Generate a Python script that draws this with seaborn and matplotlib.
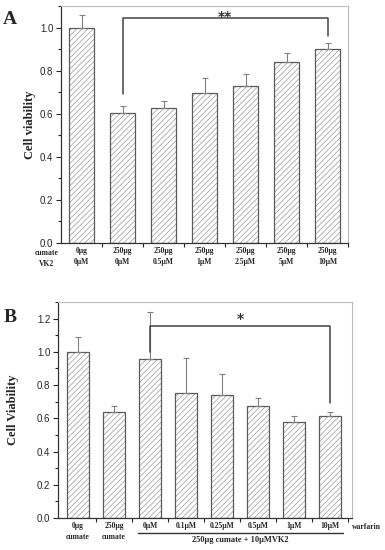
import numpy as np
import matplotlib
matplotlib.use('Agg')
import matplotlib.pyplot as plt
import matplotlib.transforms as mtransforms
from matplotlib.ticker import MultipleLocator, FixedLocator
import seaborn as sns

# Panel A data
labels_a = ['0μg\n0μM', '250μg\n0μM', '250μg\n0.5μM', '250μg\n1μM',
            '250μg\n2.5μM', '250μg\n5μM', '250μg\n10μM']
viab_a = [1.0, 0.603, 0.626, 0.694, 0.730, 0.842, 0.899]
err_a = [0.057, 0.031, 0.034, 0.070, 0.055, 0.040, 0.027]

# Panel B data
labels_b = ['0μg\ncumate', '250μg\ncumate', '0μM', '0.1μM', '0.25μM',
            '0.5μM', '1μM', '10μM']
viab_b = [1.0, 0.635, 0.954, 0.753, 0.743, 0.673, 0.575, 0.611]
err_b = [0.088, 0.042, 0.286, 0.210, 0.124, 0.048, 0.040, 0.026]

sns.set_style('ticks')
plt.rcParams['hatch.linewidth'] = 0.5

SERIF = 'Liberation Serif'
SANS = 'Liberation Sans'

fig = plt.figure(figsize=(3.85, 5.5), dpi=100)
W, H = 385, 550


def make_axes(l, t, r, b):
    return fig.add_axes([l / W, 1 - b / H, (r - l) / W, (b - t) / H])


def draw_panel(ax, labels, vals, errs, ymax, width):
    # hatched fill (light lines), then outline on top
    sns.barplot(x=labels, y=vals, ax=ax, color='white', edgecolor='#9a9a9a',
                linewidth=0, width=width, hatch='//////', saturation=1)
    sns.barplot(x=labels, y=vals, ax=ax, fill=False, edgecolor='#5a5a5a',
                linewidth=0.9, width=width, saturation=1)
    xs = np.arange(len(vals))
    ax.errorbar(xs, vals, yerr=[np.zeros(len(errs)), errs], fmt='none',
                ecolor='#808080', elinewidth=0.8, capsize=2, capthick=0.8)
    ax.set_ylim(0, ymax)
    ax.yaxis.set_major_locator(MultipleLocator(0.2))
    ax.yaxis.set_minor_locator(MultipleLocator(0.1))
    ax.xaxis.set_minor_locator(FixedLocator(np.arange(len(vals)) + 0.5))
    ax.tick_params(axis='x', which='major', length=0, pad=3)
    ax.tick_params(axis='x', which='minor', length=3, width=0.8, direction='out')
    ax.tick_params(axis='y', which='major', length=3.5, width=0.8, labelsize=7, pad=2)
    ax.tick_params(axis='y', which='minor', length=2, width=0.8)
    for lab in ax.get_yticklabels():
        lab.set_family(SANS)
    ax.set_xticks(xs)
    ax.set_xticklabels(labels, fontsize=5.5, fontweight='bold', family=SERIF,
                       linespacing=1.5)
    for s in ['left', 'bottom']:
        ax.spines[s].set_color('#333333')
        ax.spines[s].set_linewidth(0.9)
    for s in ['top', 'right']:
        ax.spines[s].set_color('#bbbbbb')
        ax.spines[s].set_linewidth(0.8)
    ax.set_ylabel('')


# ---- Panel A ----
ax_a = make_axes(61, 6, 348, 243)
draw_panel(ax_a, labels_a, viab_a, err_a, 1.1, 0.6)
ax_a.set_xlim(-0.5, 6.5)
ax_a.set_ylabel('Cell viability', fontsize=9, fontweight='bold', family=SERIF)
ax_a.yaxis.set_label_coords(-0.087, 0.5)
ax_a.plot([1, 1, 6, 6], [0.69, 1.042, 1.042, 0.963], color='#444444', lw=1.1)
ax_a.text(3.5, 1.03, '**', ha='center', va='baseline', fontsize=10,
          fontweight='bold', color='#333333')
ax_a.text(-0.05, -0.065, 'cumate\nVK2', transform=ax_a.transAxes, ha='center',
          va='center', fontsize=5.5, fontweight='bold', family=SERIF, linespacing=1.6)
fig.text(10 / W, 1 - 19 / H, 'A', fontsize=14, fontweight='bold', family=SERIF,
         ha='center', va='center')

# ---- Panel B ----
ax_b = make_axes(58, 302, 352, 518)
draw_panel(ax_b, labels_b, viab_b, err_b, 1.3, 0.62)
ax_b.set_xlim(-0.56, 7.61)
ax_b.set_ylabel('Cell Viability', fontsize=9, fontweight='bold', family=SERIF)
ax_b.yaxis.set_label_coords(-0.133, 0.5)
ax_b.plot([2, 2, 7, 7], [0.998, 1.156, 1.156, 0.69], color='#444444', lw=1.1)
ax_b.text(4.5, 1.175, '*', ha='center', va='baseline', fontsize=10,
          fontweight='bold', color='#333333')
trans = mtransforms.blended_transform_factory(ax_b.transData, ax_b.transAxes)
ax_b.plot([1.67, 7.36], [-0.069, -0.069], color='#333333', lw=1.0,
          transform=trans, clip_on=False)
ax_b.text(4.5, -0.103, '250μg cumate + 10μMVK2', transform=trans, ha='center',
          va='center', fontsize=6, fontweight='bold', family=SERIF)
ax_b.text(1.05, -0.04, 'warfarin', transform=ax_b.transAxes, ha='center',
          va='center', fontsize=5.5, fontweight='bold', family=SERIF)
fig.text(10 / W, 1 - 317 / H, 'B', fontsize=14, fontweight='bold', family=SERIF,
         ha='center', va='center')

fig.savefig('out.png', dpi=100, facecolor='white')
